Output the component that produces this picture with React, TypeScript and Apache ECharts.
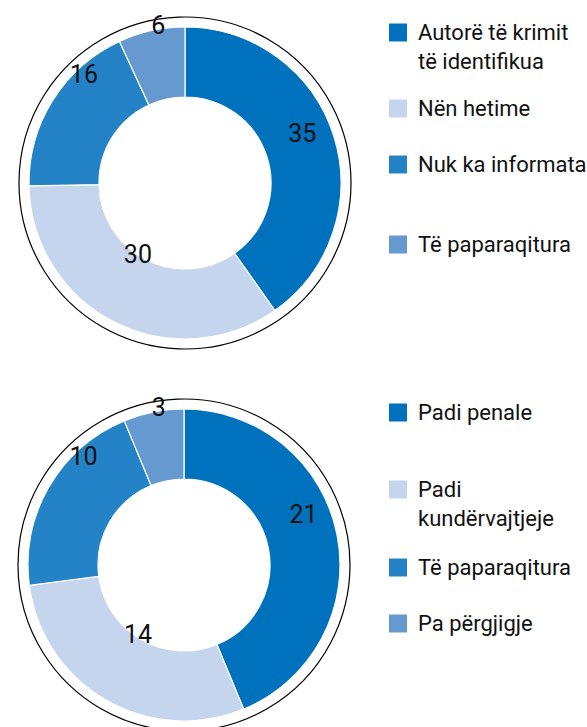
import React, { useEffect, useRef } from 'react';
import * as echarts from 'echarts';

// ---- data ----
const categoriesA = ['Autorë të krimit të identifikua', 'Nën hetime', 'Nuk ka informata', 'Të paparaqitura'];
const legendTextA = ['Autorë të krimit\ntë identifikua', 'Nën hetime', 'Nuk ka informata', 'Të paparaqitura'];
const valuesA = [35, 30, 16, 6];

const categoriesB = ['Padi penale', 'Padi kundërvajtjeje', 'Të paparaqitura', 'Pa përgjigje'];
const legendTextB = ['Padi penale', 'Padi\nkundërvajtjeje', 'Të paparaqitura', 'Pa përgjigje'];
const valuesB = [21, 14, 10, 3];

const palette = ['#0071BC', '#C6D5EE', '#2483C6', '#6699D0'];

const LABEL_FONT = "Roboto, sans-serif";
const LEGEND_FONT = "Roboto, 'Noto Sans', sans-serif";

function buildOption(
  cats: string[],
  vals: number[],
  legendText: string[],
  center: [number, number],
  iconCenters: number[],
  labelOffsets: [number, number][]
) {
  const legends = cats.map((name, i) => {
    const multi = legendText[i].includes('\n');
    return {
      data: [name],
      orient: 'vertical',
      left: 387,
      top: multi ? iconCenters[i] - 43 : iconCenters[i] - 14,
      padding: 0,
      itemWidth: 20,
      itemHeight: 20,
      icon: 'rect',
      selectedMode: false,
      // leading empty line keeps the first text line level with the swatch
      formatter: () => (multi ? '\n' + legendText[i] : legendText[i]),
      textStyle: {
        fontSize: 22,
        fontFamily: LEGEND_FONT,
        color: '#111',
        lineHeight: 29,
        padding: [0, 0, 0, 5],
      },
    };
  });
  return {
    animation: false,
    color: palette,
    legend: legends,
    graphic: [
      {
        type: 'circle',
        silent: true,
        shape: { cx: center[0], cy: center[1], r: 166 },
        style: { fill: 'none', stroke: '#000', lineWidth: 1.2 },
      },
    ],
    series: [
      {
        type: 'pie',
        center,
        radius: [86, 156],
        startAngle: 90,
        clockwise: true,
        avoidLabelOverlap: false,
        silent: true,
        itemStyle: { borderColor: '#fff', borderWidth: 1.2 },
        label: {
          show: true,
          position: 'inside',
          formatter: '{c}',
          fontSize: 25,
          fontFamily: LABEL_FONT,
          color: '#111',
        },
        labelLine: { show: false },
        labelLayout: (p: any) => ({
          dx: labelOffsets[p.dataIndex][0],
          dy: labelOffsets[p.dataIndex][1],
        }),
        emphasis: { disabled: true },
        data: cats.map((name, i) => ({ name, value: vals[i] })),
      },
    ],
  };
}

function Chart({ option, top, height }: { option: any; top: number; height: number }) {
  const ref = useRef<HTMLDivElement>(null);
  useEffect(() => {
    if (!ref.current) return;
    const chart = echarts.init(ref.current, undefined, { renderer: 'svg' });
    chart.setOption(option);
    return () => chart.dispose();
  }, [option]);
  return (
    <div
      ref={ref}
      style={{ position: 'absolute', left: 0, top, width: 587, height }}
    />
  );
}

const optionA = buildOption(
  categoriesA,
  valuesA,
  legendTextA,
  [185, 183],
  [32, 108, 164, 244],
  [[-1, -12], [9, -39], [4, -43], [0, -36]]
);
const optionB = buildOption(
  categoriesB,
  valuesB,
  legendTextB,
  [184, 202],
  [49, 126, 204, 260],
  [[-2, -26], [16, -38], [7, -47], [-1, -36]]
);

export default function App() {
  return (
    <div style={{ position: 'absolute', left: 0, top: 0, width: 587, height: 727, background: '#fff', overflow: 'hidden' }}>
      <Chart option={optionA} top={0} height={363} />
      <Chart option={optionB} top={363} height={364} />
    </div>
  );
}
